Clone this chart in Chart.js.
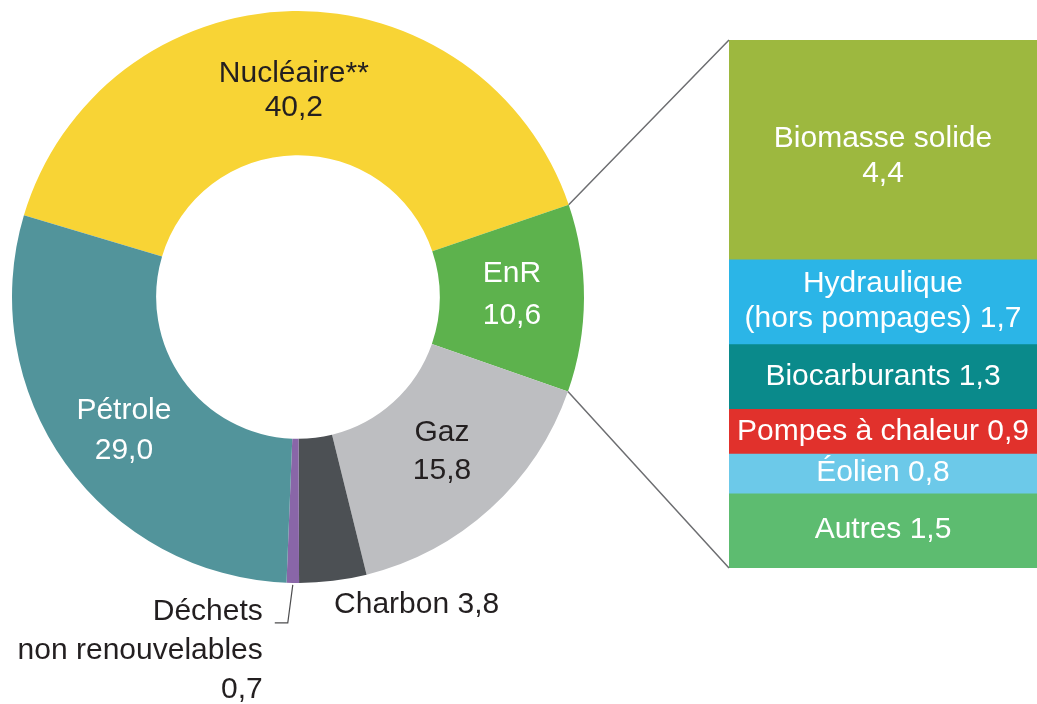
<!DOCTYPE html>
<html lang="fr">
<head>
<meta charset="utf-8">
<title>Consommation d'énergie primaire</title>
<script src="https://cdn.jsdelivr.net/npm/chart.js@4.4.1/dist/chart.umd.min.js"></script>
<style>
  html, body { margin: 0; padding: 0; background: #fff; }
  #wrap { position: relative; width: 1037px; height: 704px; overflow: hidden; }
  #wrap canvas { position: absolute; left: 0; top: 0; }
</style>
</head>
<body>
<div id="wrap">
  <canvas id="pie" width="1037" height="704"></canvas>
  <canvas id="bar" width="1037" height="704"></canvas>
</div>
<script>
// ── Data ───────────────────────────────────────────────────────────────────

const SOURCES       = ["Nucléaire**", "EnR", "Gaz", "Charbon", "Déchets non renouvelables", "Pétrole"];
const SOURCE_SHARES = [40.2, 10.6, 15.8, 3.8, 0.7, 29.0];
const SOURCE_COLORS = ["#f8d435", "#5db24d", "#bdbec1", "#4c5054", "#8966a8", "#52949b"];

const ENR_TYPES  = ["Biomasse solide", "Hydraulique (hors pompages)", "Biocarburants", "Pompes à chaleur", "Éolien", "Autres"];
const ENR_SHARES = [4.4, 1.7, 1.3, 0.9, 0.8, 1.5];
const ENR_COLORS = ["#9db83f", "#2bb5e7", "#0a8a8b", "#e1312c", "#6cc9e9", "#5dbc70"];

const FONT      = "30px 'Liberation Sans', Arial, sans-serif";
const DARK_TEXT = "#231f20";

const fmt = v => v.toFixed(1).replace(".", ",");

// text lines for each slice / bar segment
const sourceLines = [
  [SOURCES[0], fmt(SOURCE_SHARES[0])],
  [SOURCES[1], fmt(SOURCE_SHARES[1])],
  [SOURCES[2], fmt(SOURCE_SHARES[2])],
  [`${SOURCES[3]} ${fmt(SOURCE_SHARES[3])}`],
  ["Déchets", "non renouvelables", fmt(SOURCE_SHARES[4])],
  [SOURCES[5], fmt(SOURCE_SHARES[5])],
];
const sourceTextColor = [DARK_TEXT, "#fff", DARK_TEXT, DARK_TEXT, DARK_TEXT, "#fff"];
const sourceDy        = [8, -3, -4, 0, 0, 9];
const sourceLineH     = [34, 42, 38, 38, 39, 40];

const enrLines = [
  ["Biomasse solide", fmt(ENR_SHARES[0])],
  ["Hydraulique", `(hors pompages) ${fmt(ENR_SHARES[1])}`],
  [`Biocarburants ${fmt(ENR_SHARES[2])}`],
  [`Pompes à chaleur ${fmt(ENR_SHARES[3])}`],
  [`Éolien ${fmt(ENR_SHARES[4])}`],
  [`Autres ${fmt(ENR_SHARES[5])}`],
];
const enrDy = [7, 0, 1, 1, -1, -1];

function drawLines(ctx, lines, x, cy, align, lineH) {
  ctx.textAlign = align;
  ctx.textBaseline = "middle";
  const top = cy - (lines.length - 1) * lineH / 2;
  lines.forEach((t, i) => ctx.fillText(t, x, top + i * lineH));
}

// ── Doughnut labels ────────────────────────────────────────────────────────

const pieLabels = {
  id: "pieLabels",
  afterDatasetsDraw(chart) {
    const ctx = chart.ctx;
    const arcs = chart.getDatasetMeta(0).data;
    ctx.save();
    ctx.font = FONT;
    arcs.forEach((arc, i) => {
      ctx.fillStyle = sourceTextColor[i];
      const mid = (arc.startAngle + arc.endAngle) / 2;
      const ox = arc.x + arc.outerRadius * Math.cos(mid);
      const oy = arc.y + arc.outerRadius * Math.sin(mid);
      if (i === 3) {
        // Charbon: outside, left aligned under the slice
        drawLines(ctx, sourceLines[i], ox + 1, oy + 24, "left", sourceLineH[i]);
      } else if (i === 4) {
        // Déchets: leader line + right aligned block
        ctx.strokeStyle = "#4d4d4f";
        ctx.lineWidth = 1.2;
        ctx.beginPath();
        ctx.moveTo(ox, oy + 2);
        ctx.lineTo(ox - 5, oy + 40);
        ctx.lineTo(ox - 18, oy + 40);
        ctx.stroke();
        drawLines(ctx, sourceLines[i], ox - 30, oy + 68, "right", sourceLineH[i]);
      } else {
        const c = arc.getCenterPoint();
        drawLines(ctx, sourceLines[i], c.x, c.y + sourceDy[i], "center", sourceLineH[i]);
      }
    });
    ctx.restore();
  }
};

const pieChart = new Chart(document.getElementById("pie"), {
  type: "doughnut",
  data: {
    labels: SOURCES,
    datasets: [{ data: SOURCE_SHARES, backgroundColor: SOURCE_COLORS, borderWidth: 0 }],
  },
  options: {
    responsive: false,
    animation: false,
    devicePixelRatio: 1,
    rotation: -73.4,
    cutout: "49.6%",
    layout: { padding: { left: 12, top: 11, right: 453, bottom: 121 } },
    plugins: { legend: { display: false }, tooltip: { enabled: false } },
  },
  plugins: [pieLabels],
});

// ── EnR breakdown bar + connectors ─────────────────────────────────────────

const ENR_TOTAL = ENR_SHARES.reduce((a, b) => a + b, 0);

const barLabels = {
  id: "barLabels",
  afterDatasetsDraw(chart) {
    const ctx = chart.ctx;
    ctx.save();

    // connector lines from the EnR slice to the bar
    const enrArc = pieChart.getDatasetMeta(0).data[1];
    const first  = chart.getDatasetMeta(0).data[0];
    const last   = chart.getDatasetMeta(ENR_SHARES.length - 1).data[0];
    const left   = first.x - first.width / 2;
    const top    = Math.min(first.y, first.base);
    const bottom = Math.max(last.y, last.base);
    const R = enrArc.outerRadius;
    ctx.strokeStyle = "#6d6e71";
    ctx.lineWidth = 1.5;
    ctx.beginPath();
    ctx.moveTo(enrArc.x + R * Math.cos(enrArc.startAngle), enrArc.y + R * Math.sin(enrArc.startAngle));
    ctx.lineTo(left, top);
    ctx.moveTo(enrArc.x + R * Math.cos(enrArc.endAngle), enrArc.y + R * Math.sin(enrArc.endAngle));
    ctx.lineTo(left, bottom);
    ctx.stroke();

    // segment labels
    ctx.font = FONT;
    ctx.fillStyle = "#fff";
    ENR_SHARES.forEach((v, i) => {
      const el = chart.getDatasetMeta(i).data[0];
      const c = el.getCenterPoint();
      drawLines(ctx, enrLines[i], c.x, c.y + enrDy[i], "center", 35);
    });
    ctx.restore();
  }
};

new Chart(document.getElementById("bar"), {
  type: "bar",
  data: {
    labels: ["EnR"],
    datasets: ENR_TYPES.map((t, i) => ({
      label: t,
      data: [ENR_SHARES[i]],
      backgroundColor: ENR_COLORS[i],
      borderWidth: 0,
      barPercentage: 1,
      categoryPercentage: 1,
    })),
  },
  options: {
    responsive: false,
    animation: false,
    devicePixelRatio: 1,
    layout: { padding: { left: 729, right: 0, top: 40, bottom: 136 } },
    scales: {
      x: { display: false, stacked: true },
      y: { display: false, stacked: true, reverse: true, min: 0, max: ENR_TOTAL },
    },
    plugins: { legend: { display: false }, tooltip: { enabled: false } },
  },
  plugins: [barLabels],
});
</script>
</body>
</html>
